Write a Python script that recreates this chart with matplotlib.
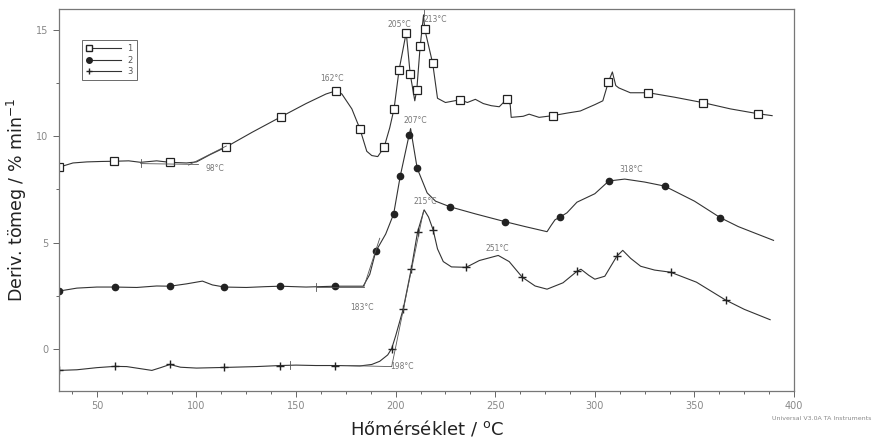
import matplotlib
matplotlib.use("Agg")
import matplotlib.pyplot as plt
from matplotlib.ticker import MultipleLocator
from matplotlib.legend_handler import HandlerLine2D
from matplotlib.lines import Line2D

# curve 1 (squares)
t1 = [31, 38, 45, 52, 58.5, 66, 72, 80, 86.7, 95, 100, 107, 114.8, 128, 142.5, 155, 165, 170,
      173, 178, 182, 185.5, 188, 191, 194.2, 197, 199.2, 201.7, 205.3, 207.3, 209.6, 210.6, 212.3,
      214, 214.6, 218.6, 221, 225, 232.4, 236, 240, 244, 248, 252, 255.8, 257.5, 258, 264, 267,
      272, 278.8, 286, 292.7, 300, 304, 306.8, 308.8, 310.5, 312, 317.8, 326.9, 340, 354.5, 368,
      382, 389]
y1 = [8.55, 8.75, 8.8, 8.82, 8.83, 8.85, 8.78, 8.85, 8.78, 8.75, 8.8, 9.15, 9.5, 10.2, 10.93, 11.55,
      12.0, 12.15, 12.0, 11.3, 10.37, 9.3, 9.1, 9.05, 9.49, 10.4, 11.31, 13.13, 14.9, 12.94, 11.68,
      12.2, 14.25, 15.73, 15.05, 13.44, 11.8, 11.6, 11.73, 11.6, 11.75, 11.55, 11.45, 11.4, 11.76,
      11.5, 10.9, 10.95, 11.05, 10.9, 10.98, 11.1, 11.2, 11.5, 11.68, 12.57, 13.04, 12.4, 12.29,
      12.06, 12.06, 11.85, 11.59, 11.3, 11.07, 10.98]
m1_t = [31, 58.5, 86.7, 114.8, 142.5, 170, 182, 194.2, 199.2, 201.7, 205.3, 207.3, 210.6, 212.3,
        214.6, 218.6, 232.4, 255.8, 278.8, 306.8, 326.9, 354.5, 382]
m1_y = [8.55, 8.83, 8.78, 9.5, 10.93, 12.15, 10.37, 9.49, 11.31, 13.13, 14.9, 12.94, 12.2, 14.25,
        15.05, 13.44, 11.73, 11.76, 10.98, 12.57, 12.06, 11.59, 11.07]

# curve 2 (filled circles)
t2 = [31, 40, 50, 59, 70, 80, 86.7, 95, 103, 108, 114, 125, 135, 142, 155, 169.6, 183.7, 187, 190,
      195, 199, 202.3, 206.8, 207.5, 210.8, 215.8, 220, 227.4, 240, 255, 265, 276, 278, 280, 282.7,
      286, 291, 300, 307, 315, 325, 335, 350, 363, 372, 379.6, 389.7]
y2 = [2.71, 2.85, 2.9, 2.9, 2.88, 2.95, 2.94, 3.05, 3.18, 3.0, 2.9, 2.88, 2.92, 2.94, 2.9, 2.94,
      2.94, 3.5, 4.58, 5.4, 6.35, 8.13, 10.09, 10.37, 8.5, 7.34, 6.95, 6.68, 6.35, 5.98, 5.75, 5.51,
      5.8, 6.07, 6.21, 6.4, 6.9, 7.3, 7.9, 7.99, 7.85, 7.66, 6.95, 6.17, 5.75, 5.47, 5.1]
m2_t = [31, 59, 86.7, 114, 142, 169.6, 190, 199, 202.3, 206.8, 210.8, 227.4, 255, 282.7, 307, 335, 363]
m2_y = [2.71, 2.9, 2.94, 2.9, 2.94, 2.94, 4.58, 6.35, 8.13, 10.09, 8.5, 6.68, 5.98, 6.21, 7.9, 7.66, 6.17]

# curve 3 (plus)
t3 = [31, 40, 50, 59, 65, 72, 77.6, 82, 86.7, 92, 100, 114, 130, 142, 150, 160, 169.6, 182, 188,
      192, 196, 198, 200, 203.8, 207.8, 211, 214.3, 216.5, 218.8, 221, 223.9, 228, 235.4, 242,
      251.5, 257, 263.6, 270, 276, 284, 291, 293, 297, 300, 305, 311, 314, 318, 323, 330, 338,
      351, 365.6, 375, 388]
y3 = [-1.03, -1.0, -0.9, -0.84, -0.85, -0.95, -1.03, -0.9, -0.75, -0.88, -0.92, -0.89, -0.85,
      -0.8, -0.78, -0.8, -0.8, -0.82, -0.75, -0.6, -0.3, 0.0, 0.6, 1.87, 3.74, 5.5, 6.54, 6.2, 5.6,
      4.7, 4.1, 3.85, 3.83, 4.15, 4.39, 4.1, 3.36, 2.95, 2.8, 3.1, 3.64, 3.74, 3.45, 3.27, 3.41,
      4.35, 4.63, 4.25, 3.88, 3.7, 3.6, 3.13, 2.29, 1.85, 1.36]
m3_t = [31, 59, 86.7, 114, 142, 169.6, 198, 203.8, 207.8, 211, 218.8, 235.4, 263.6, 291, 311, 338, 365.6]
m3_y = [-1.03, -0.84, -0.75, -0.89, -0.8, -0.8, 0.0, 1.87, 3.74, 5.5, 5.6, 3.83, 3.36, 3.64, 4.35, 3.6, 2.29]

# peak / onset labels
lab_txt = ["162°C", "205°C", "213°C", "98°C", "207°C", "318°C", "183°C", "215°C", "251°C", "198°C"]
lab_t = [168, 202, 220, 109, 210, 318, 183, 215, 251, 203]
lab_y = [12.75, 15.3, 15.5, 8.5, 10.75, 8.45, 1.95, 6.95, 4.7, -0.85]


class FirstMarker(HandlerLine2D):
    def create_artists(self, *args, **kwargs):
        arts = super().create_artists(*args, **kwargs)
        for a in arts:
            a.set_markevery([0])
        return arts


line_c = "#333333"
fig = plt.figure(figsize=(8.72, 4.37), dpi=100)
ax = fig.add_axes([0.0677, 0.1053, 0.8429, 0.8737])

ax.plot(t1, y1, color=line_c, lw=0.8)
ax.plot(t2, y2, color=line_c, lw=0.8)
ax.plot(t3, y3, color=line_c, lw=0.8)
ax.plot(m1_t, m1_y, ls="none", marker="s", ms=5.5, mfc="white", mec="#222222", mew=0.9)
ax.plot(m2_t, m2_y, ls="none", marker="o", ms=4.5, mfc="#222222", mec="#222222")
ax.plot(m3_t, m3_y, ls="none", marker="+", ms=6, mec="#222222", mew=1.0)

# onset tangent lines and small ticks
tan_c = "#555555"
ax.plot([72, 101], [8.72, 8.68], color=tan_c, lw=0.6)
ax.plot([96, 115], [8.65, 9.55], color=tan_c, lw=0.6)
ax.plot([72, 72], [8.55, 8.95], color=tan_c, lw=0.6)
ax.plot([160, 184], [2.9, 2.9], color=tan_c, lw=0.6)
ax.plot([184, 192], [2.9, 5.2], color=tan_c, lw=0.6)
ax.plot([160, 160], [2.7, 3.1], color=tan_c, lw=0.6)
ax.plot([175, 198], [-0.8, -0.85], color=tan_c, lw=0.6)
ax.plot([198, 214], [-0.85, 6.5], color=tan_c, lw=0.6)
ax.plot([147, 147], [-0.98, -0.6], color=tan_c, lw=0.6)
ax.plot([214, 214], [15.7, 16.0], color=tan_c, lw=0.6)

for s, tx, ty in zip(lab_txt, lab_t, lab_y):
    ax.text(tx, ty, s, fontsize=5.5, color="#777777", ha="center", va="center")

ax.set_xlim(31, 400)
ax.set_ylim(-2, 16)
ax.xaxis.set_major_locator(MultipleLocator(50))
ax.xaxis.set_minor_locator(MultipleLocator(12.5))
ax.yaxis.set_major_locator(MultipleLocator(5))
ax.yaxis.set_minor_locator(MultipleLocator(2.5))
ax.tick_params(which="both", direction="out", colors="#666666", labelsize=7,
               labelcolor="#888888", width=0.7)
ax.tick_params(which="major", length=4)
ax.tick_params(which="minor", length=2.5)
for sp in ax.spines.values():
    sp.set_color("#777777")
    sp.set_linewidth(0.9)

ax.set_xlabel("Hőmérséklet / $^{\\mathrm{o}}$C", fontsize=13, color="#222222", labelpad=5)
ax.set_ylabel("Deriv. tömeg / % min$^{-1}$", fontsize=12.5, color="#222222", labelpad=5)

h1, = ax.plot([], [], color=line_c, lw=0.8, marker="s", ms=5, mfc="white", mec="#222222")
h2, = ax.plot([], [], color=line_c, lw=0.8, marker="o", ms=4, mfc="#222222", mec="#222222")
h3, = ax.plot([], [], color=line_c, lw=0.8, marker="+", ms=5, mec="#222222")
leg = ax.legend([h1, h2, h3], ["1", "2", "3"], loc="upper left", bbox_to_anchor=(0.026, 0.93),
                fontsize=6, fancybox=False, edgecolor="#444444", handlelength=4.5, numpoints=2,
                borderpad=0.5, labelspacing=0.3, handletextpad=0.4,
                handler_map={Line2D: FirstMarker()})
leg.get_frame().set_linewidth(0.7)
for t in leg.get_texts():
    t.set_color("#555555")

fig.text(0.999, 0.038, "Universal V3.0A TA Instruments", fontsize=4.5, color="#888888", ha="right")

fig.savefig("out.png", dpi=100)
